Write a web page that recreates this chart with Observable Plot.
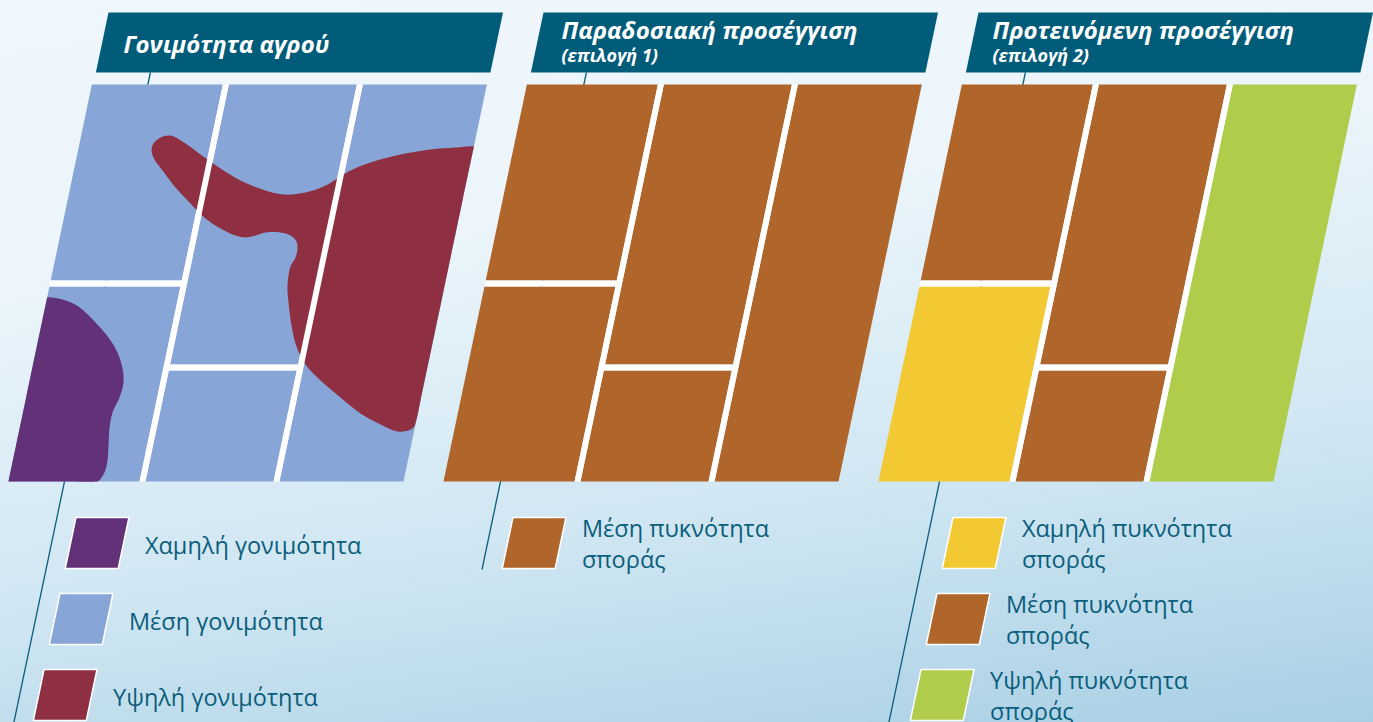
<!DOCTYPE html>
<html><head><meta charset="utf-8">
<script src="https://cdn.jsdelivr.net/npm/d3@7"></script>
<script src="https://cdn.jsdelivr.net/npm/@observablehq/plot@0.6"></script>
<style>html,body{margin:0;padding:0;overflow:hidden;background:#eef6fb;}</style>
</head><body><div id="chart"></div>
<script>
// ---------- DATA ----------
const panelTitles = ["Γονιμότητα αγρού", "Παραδοσιακή προσέγγιση", "Προτεινόμενη προσέγγιση"];
const panelSubtitles = ["", "(επιλογή 1)", "(επιλογή 2)"];

const categories = ["Χαμηλή γονιμότητα", "Μέση γονιμότητα", "Υψηλή γονιμότητα",
  "Χαμηλή πυκνότητα σποράς", "Μέση πυκνότητα σποράς", "Υψηλή πυκνότητα σποράς"];
const categoryColors = ["#623178", "#87a6d7", "#8e3041", "#f2c932", "#b0652a", "#afcd4a"];

// field cells (panel, column, row, category)
const cellPanel    = [0, 0, 0, 0, 0,  1, 1, 1, 1, 1,  2, 2, 2, 2, 2];
const cellColumn   = [0, 0, 1, 1, 2,  0, 0, 1, 1, 2,  0, 0, 1, 1, 2];
const cellRow      = [0, 1, 0, 1, 0,  0, 1, 0, 1, 0,  0, 1, 0, 1, 0];
const cellCategory = [
  "Μέση γονιμότητα", "Μέση γονιμότητα", "Μέση γονιμότητα", "Μέση γονιμότητα", "Μέση γονιμότητα",
  "Μέση πυκνότητα σποράς", "Μέση πυκνότητα σποράς", "Μέση πυκνότητα σποράς", "Μέση πυκνότητα σποράς", "Μέση πυκνότητα σποράς",
  "Μέση πυκνότητα σποράς", "Χαμηλή πυκνότητα σποράς", "Μέση πυκνότητα σποράς", "Μέση πυκνότητα σποράς", "Υψηλή πυκνότητα σποράς"
];

// fertility zones drawn over the first field
const zoneCategory = ["Χαμηλή γονιμότητα", "Υψηλή γονιμότητα"];
const lowZone = [[46.6,297],[62,299],[78,306],[95,322],[108,337],[117,352],[122,368],[123,382],[119,397],
  [112,412],[109,428],[108,445],[107,460],[104,472],[98,480.5],[96,481],[60,481],[10,481],[8,481],
  [8.4,479],[25.4,398],[44.5,307],[46.4,298]];
const highZone = [[160,137],[170,135],[182,141],[200,154],[220,168],[240,180],[262,189],[283,194],[305,192],
  [323,186],[337,178],[348,171],[370,162],[400,154],[430,149],[455,147],[473.4,146],[473.2,147],
  [462,200],[441,300],[420,400],[416,419],[413,427],[406,430.5],[397,431],[380,424],[360,413],[340,397],
  [320,380],[305,364],[296,346],[291,325],[288,302],[287,285],[290,266],[295,257],[297,248],[296,241],
  [290,235],[280,232],[265,232],[255,235],[245,237],[235,235],[220,228],[205,218],[190,203],[175,187],
  [162,170],[154,159],[151,150],[153,143]];

// legends
const legendPanel    = [0, 0, 0, 1, 2, 2, 2];
const legendRow      = [0, 1, 2, 0, 0, 1, 2];
const legendCategory = ["Χαμηλή γονιμότητα", "Μέση γονιμότητα", "Υψηλή γονιμότητα",
  "Μέση πυκνότητα σποράς", "Χαμηλή πυκνότητα σποράς", "Μέση πυκνότητα σποράς", "Υψηλή πυκνότητα σποράς"];
const legendText = ["Χαμηλή γονιμότητα", "Μέση γονιμότητα", "Υψηλή γονιμότητα",
  "Μέση πυκνότητα\nσποράς", "Χαμηλή πυκνότητα\nσποράς", "Μέση πυκνότητα\nσποράς", "Υψηλή πυκνότητα\nσποράς"];

// ---------- LAYOUT ----------
const SLANT = 0.21, BASE_X = 8, BOTTOM = 481;
const panelOffset = [0, 435, 870];
const columnU = [[0, 131], [137, 265], [271, 395]];
const columnRows = [[[84, 280], [286, 481]], [[84, 364], [370, 481]], [[84, 481]]];
const gapsV = [[131, 137, 84, 481], [265, 271, 84, 481]];
const gapsH = [[0, 131, 280, 286], [137, 265, 364, 370]];
const bannerU = [1.5, 396], bannerY = [12, 72];
const leaderU = [56, 57, 61], leaderEnd = [722, 569, 722];
const legendU = [[75, 128], [77, 130], [82, 135]];
const legendTop0 = 517, legendStep = 76, legendH = 51;
const titleX = [123, 561, 992], titleY = [52, 38.5, 38.5];

const px = (p, u, y) => BASE_X + panelOffset[p] + u + (BOTTOM - y) * SLANT;
function quad(id, p, u0, u1, y0, y1, extra = {}) {
  return [[u0, y0], [u1, y0], [u1, y1], [u0, y1]].map(([u, y]) => ({id, x: px(p, u, y), y, ...extra}));
}

const cells = cellPanel.flatMap((p, i) => {
  const [u0, u1] = columnU[cellColumn[i]];
  const [y0, y1] = columnRows[cellColumn[i]][cellRow[i]];
  return quad("c" + i, p, u0, u1, y0, y1, {cat: cellCategory[i]});
});
const zones = [lowZone, highZone].flatMap((pts, k) =>
  pts.map(([x, y]) => ({id: "z" + k, x, y, cat: zoneCategory[k]})));
const strips = [0, 1, 2].flatMap(p => [
  ...gapsV.map((g, k) => quad(`v${p}${k}`, p, g[0], g[1], g[2], g[3])).flat(),
  ...gapsH.map((g, k) => quad(`h${p}${k}`, p, g[0], g[1], g[2], g[3])).flat()
]);
const banners = [0, 1, 2].flatMap(p => quad("b" + p, p, bannerU[0], bannerU[1], bannerY[0], bannerY[1]));
const leaders = [0, 1, 2].map(p => ({x1: px(p, leaderU[p], bannerY[1]), y1: bannerY[1], x2: px(p, leaderU[p], leaderEnd[p]), y2: leaderEnd[p]}));
const swatches = legendPanel.flatMap((p, i) => {
  const top = legendTop0 + legendStep * legendRow[i];
  return quad("s" + i, p, legendU[p][0], legendU[p][1], top, top + legendH, {cat: legendCategory[i]});
});
const labels = legendPanel.map((p, i) => {
  const top = legendTop0 + legendStep * legendRow[i];
  const twoLine = legendText[i].includes("\n");
  return {x: px(p, legendU[p][0], top) + 69, y: top + (twoLine ? 50 : 36), text: legendText[i]};
});
const titles = [0, 1, 2].map(p => ({x: titleX[p], y: titleY[p], text: panelTitles[p], sub: panelSubtitles[p]}));

const FONT = "'Open Sans', 'DejaVu Sans', sans-serif";
const TEAL = "#0b5e7c";

const chart = Plot.plot({
  width: 1373, height: 722, margin: 0,
  x: {domain: [0, 1373], range: [0, 1373], axis: null},
  y: {domain: [0, 722], range: [0, 722], axis: null},
  color: {type: "ordinal", domain: categories, range: categoryColors},
  style: {background: "linear-gradient(172deg, #f0f7fc 0%, #ebf5fb 32%, #cfe6f2 68%, #a8cfe4 100%)", fontFamily: FONT},
  marks: [
    Plot.link(leaders, {x1: "x1", y1: "y1", x2: "x2", y2: "y2", stroke: TEAL, strokeWidth: 1.3}),
    Plot.line(banners, {x: "x", y: "y", z: "id", fill: "#015c7a", stroke: "none", curve: "linear-closed"}),
    Plot.line(cells, {x: "x", y: "y", z: "id", fill: "cat", stroke: "none", curve: "linear-closed"}),
    Plot.line(zones, {x: "x", y: "y", z: "id", fill: "cat", stroke: "none", curve: "catmull-rom-closed"}),
    Plot.line(strips, {x: "x", y: "y", z: "id", fill: "white", stroke: "none", curve: "linear-closed"}),
    Plot.line(swatches, {x: "x", y: "y", z: "id", fill: "cat", stroke: "white", strokeWidth: 1.5, curve: "linear-closed"}),
    Plot.text(labels, {x: "x", y: "y", text: "text", textAnchor: "start", lineAnchor: "bottom", lineHeight: 1.3,
      fontSize: 23.5, fill: TEAL, fontFamily: FONT}),
    Plot.text(titles, {x: "x", y: "y", text: "text", textAnchor: "start", lineAnchor: "bottom",
      fontSize: 24, fontWeight: "bold", fontStyle: "italic", fill: "white", fontFamily: FONT}),
    Plot.text(titles, {x: "x", y: 61, text: "sub", textAnchor: "start", lineAnchor: "bottom",
      fontSize: 18, fontWeight: "bold", fontStyle: "italic", fill: "white", fontFamily: FONT})
  ]
});
document.getElementById("chart").appendChild(chart);
</script>
</body></html>
